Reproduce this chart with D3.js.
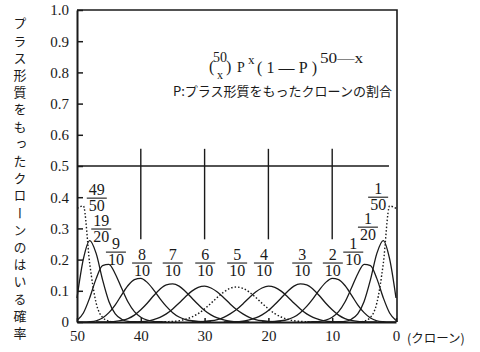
<!DOCTYPE html>
<html>
<head>
<meta charset="utf-8">
<script src="https://cdn.jsdelivr.net/npm/d3@7.9.0/dist/d3.min.js"></script>
<style>
  html, body { margin: 0; padding: 0; background: #fff; }
  svg { display: block; }
</style>
</head>
<body>
<svg id="chart" width="480" height="352"></svg>
<script>
// P for each curve, written as a fraction
const fracNum = ['1', '1', '1', '2', '3', '4', '5', '6', '7', '8', '9', '19', '49'];
const fracDen = ['50', '20', '10', '10', '10', '10', '10', '10', '10', '10', '10', '20', '50'];

// first x (number of clones) of each value list
const curveStart = [0, 0, 0, 0, 3, 8, 13, 18, 23, 29, 36, 40, 44];

// probabilities, one per clone count
const p1of50 = [0.364, 0.372, 0.186, 0.061, 0.015, 0.003, 0];
const p1of20 = [0.077, 0.202, 0.261, 0.220, 0.136, 0.066, 0.026, 0.009, 0.002, 0.001, 0];
const p1of10 = [0.005, 0.029, 0.078, 0.139, 0.181, 0.185, 0.154, 0.108, 0.064, 0.033, 0.015, 0.006, 0.002, 0.001, 0];
const p2of10 = [0, 0, 0.001, 0.004, 0.013, 0.030, 0.055, 0.087, 0.117, 0.136, 0.140, 0.127, 0.103, 0.075, 0.050, 0.030, 0.016, 0.008, 0.004, 0.002, 0.001, 0];
const p3of10 = [0, 0, 0.001, 0.002, 0.005, 0.011, 0.022, 0.039, 0.060, 0.084, 0.105, 0.119, 0.122, 0.115, 0.098, 0.077, 0.056, 0.037, 0.023, 0.013, 0.007, 0.003, 0.001, 0.001, 0];
const p4of10 = [0, 0, 0.001, 0.003, 0.008, 0.015, 0.026, 0.042, 0.061, 0.081, 0.099, 0.111, 0.115, 0.109, 0.096, 0.078, 0.058, 0.040, 0.026, 0.015, 0.008, 0.004, 0.002, 0.001, 0];
const p5of10 = [0, 0.001, 0.002, 0.004, 0.009, 0.016, 0.027, 0.042, 0.060, 0.079, 0.096, 0.108, 0.112, 0.108, 0.096, 0.079, 0.060, 0.042, 0.027, 0.016, 0.009, 0.004, 0.002, 0.001, 0];
const p6of10 = [0, 0.001, 0.002, 0.004, 0.008, 0.015, 0.026, 0.040, 0.058, 0.078, 0.096, 0.109, 0.115, 0.111, 0.099, 0.081, 0.061, 0.042, 0.026, 0.015, 0.008, 0.003, 0.001, 0, 0];
const p7of10 = [0, 0.001, 0.001, 0.003, 0.007, 0.013, 0.023, 0.037, 0.056, 0.077, 0.098, 0.115, 0.122, 0.119, 0.105, 0.084, 0.060, 0.039, 0.022, 0.011, 0.005, 0.002, 0.001, 0, 0];
const p8of10 = [0, 0.001, 0.002, 0.004, 0.008, 0.016, 0.030, 0.050, 0.075, 0.103, 0.127, 0.140, 0.136, 0.117, 0.087, 0.055, 0.030, 0.013, 0.004, 0.001, 0, 0];
const p9of10 = [0, 0.001, 0.002, 0.006, 0.015, 0.033, 0.064, 0.108, 0.154, 0.185, 0.181, 0.139, 0.078, 0.029, 0.005];
const p19of20 = [0, 0.001, 0.002, 0.009, 0.026, 0.066, 0.136, 0.220, 0.261, 0.202, 0.077];
const p49of50 = [0, 0.003, 0.015, 0.061, 0.186, 0.372, 0.364];

const curveValues = [p1of50, p1of20, p1of10, p2of10, p3of10, p4of10, p5of10,
  p6of10, p7of10, p8of10, p9of10, p19of20, p49of50];
const dottedCurve = [true, false, false, false, false, false, true,
  false, false, false, false, false, true];

// where each fraction label sits (data units: clones, probability of the bar)
const labelX = [2.8, 4.4, 6.7, 9.9, 14.7, 20.7, 24.9, 29.9, 35.0, 39.8, 43.9, 46.2, 46.9];
const labelY = [0.40, 0.304, 0.224, 0.189, 0.189, 0.189, 0.189, 0.189, 0.189, 0.189, 0.224, 0.298, 0.397];

const yTicks = [0, 0.1, 0.2, 0.3, 0.4, 0.5, 0.6, 0.7, 0.8, 0.9, 1.0];
const xTicks = [50, 40, 30, 20, 10, 0];
const guideX = [40, 30, 20, 10];

const yTitle = 'プラス形質をもったクローンのはいる確率';
const xUnit = '(クローン)';
const noteText = 'P:プラス形質をもったクローンの割合';

const serif = '"Liberation Serif", "Times New Roman", "DejaVu Serif", serif';
const jpFont = '"Noto Sans CJK JP", sans-serif';
const ink = '#1a1a1a';

const svg = d3.select('#chart');
const x = d3.scaleLinear().domain([50, 0]).range([77, 396]);
const y = d3.scaleLinear().domain([0, 1]).range([322, 10]);

// axes
const yAxis = svg.append('g')
  .attr('transform', `translate(${x(50)},0)`)
  .call(d3.axisLeft(y).tickValues(yTicks).tickSize(-6).tickSizeOuter(0).tickPadding(8)
    .tickFormat(d => d === 0 ? '0' : d.toFixed(1)));
const xAxis = svg.append('g')
  .attr('transform', `translate(0,${y(0)})`)
  .call(d3.axisBottom(x).tickValues(xTicks).tickSize(-4).tickSizeOuter(0).tickPadding(8));

[yAxis, xAxis].forEach(g => {
  g.attr('font-family', serif).attr('font-size', 15);
  g.select('.domain').attr('stroke', ink).attr('stroke-width', 2);
  g.selectAll('.tick line').attr('stroke', ink).attr('stroke-width', 1.5);
  g.selectAll('.tick text').attr('font-family', serif).attr('font-size', 15).attr('fill', ink);
});

// frame, top and right
svg.append('path')
  .attr('d', `M${x(50)},${y(1)}H${x(0) + 1}V${y(0)}`)
  .attr('fill', 'none').attr('stroke', ink).attr('stroke-width', 1.6);

// guide lines
svg.append('line')
  .attr('x1', x(50)).attr('x2', x(1.1))
  .attr('y1', y(0.5)).attr('y2', y(0.5))
  .attr('stroke', ink).attr('stroke-width', 1.6);
svg.selectAll('.guide')
  .data(guideX)
  .join('line')
  .attr('class', 'guide')
  .attr('x1', d => x(d)).attr('x2', d => x(d))
  .attr('y1', y(0.555)).attr('y2', y(0.265))
  .attr('stroke', ink).attr('stroke-width', 1.4);

// curves
const line = d3.line()
  .x(d => x(d[0]))
  .y(d => y(d[1]))
  .curve(d3.curveMonotoneX);

curveValues.forEach((vals, i) => {
  const pts = vals.map((v, k) => [curveStart[i] + k, v]);
  svg.append('path')
    .attr('d', line(pts))
    .attr('fill', 'none')
    .attr('stroke', ink)
    .attr('stroke-width', dottedCurve[i] ? 1.4 : 1.3)
    .attr('stroke-dasharray', dottedCurve[i] ? '1.5,2' : null);
});

// fraction labels
fracNum.forEach((n, i) => {
  const cx = x(labelX[i]);
  const by = y(labelY[i]);
  const g = svg.append('g').attr('font-family', serif).attr('font-size', 16).attr('fill', ink);
  g.append('text')
    .attr('x', cx).attr('y', by - 3)
    .attr('text-anchor', 'middle')
    .text(n);
  g.append('line')
    .attr('x1', cx - 10).attr('x2', cx + 10)
    .attr('y1', by).attr('y2', by)
    .attr('stroke', ink).attr('stroke-width', 1.1);
  g.append('text')
    .attr('x', cx).attr('y', by + 13)
    .attr('text-anchor', 'middle')
    .text(fracDen[i]);
});

// formula
const f = svg.append('g').attr('font-family', serif).attr('fill', ink);
f.append('text').attr('x', 209).attr('y', 72).attr('font-size', 16).text('(');
f.append('text').attr('x', 220).attr('y', 62).attr('font-size', 14).attr('text-anchor', 'middle').text('50');
f.append('text').attr('x', 220).attr('y', 79).attr('font-size', 12).attr('text-anchor', 'middle').text('x');
f.append('text').attr('x', 226).attr('y', 72).attr('font-size', 16).text(')');
f.append('text').attr('x', 237).attr('y', 72).attr('font-size', 14).text('P');
f.append('text').attr('x', 248).attr('y', 64).attr('font-size', 13).text('x');
f.append('text').attr('x', 257).attr('y', 73).attr('font-size', 16)
  .attr('textLength', 60).attr('lengthAdjust', 'spacing').text('(1—P)');
f.append('text').attr('x', 320).attr('y', 63).attr('font-size', 15)
  .attr('textLength', 43).attr('lengthAdjust', 'spacingAndGlyphs').text('50—x');

svg.append('text')
  .attr('x', 173).attr('y', 96)
  .attr('font-family', jpFont).attr('fill', ink)
  .attr('font-size', 13)
  .attr('textLength', 219)
  .text(noteText);

// y title, vertical
svg.append('text')
  .attr('x', 20).attr('y', 17)
  .attr('font-family', jpFont).attr('fill', ink)
  .attr('font-size', 13)
  .style('writing-mode', 'vertical-rl')
  .style('letter-spacing', '4.2px')
  .text(yTitle);

// x unit
svg.append('text')
  .attr('x', 407).attr('y', 343)
  .attr('font-family', jpFont).attr('fill', ink)
  .attr('font-size', 12.5)
  .text(xUnit);
</script>
</body>
</html>
